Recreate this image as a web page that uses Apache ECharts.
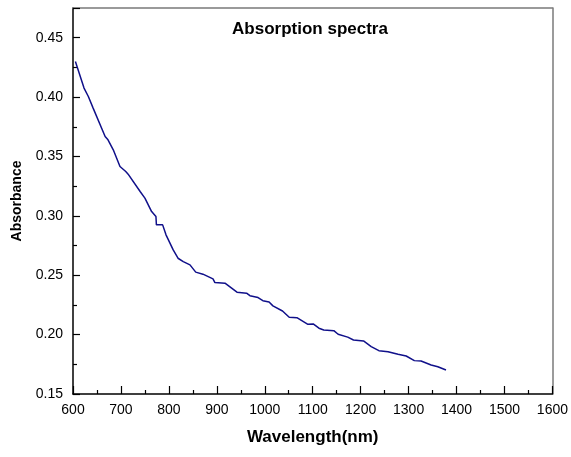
<!DOCTYPE html>
<html>
<head>
<meta charset="utf-8">
<script src="https://cdn.jsdelivr.net/npm/echarts@6/dist/echarts.min.js"></script>
<style>
  html, body { margin: 0; padding: 0; background: #fff; }
  #chart { width: 571px; height: 457px; }
</style>
</head>
<body>
<div id="chart"></div>
<script>
// Wavelength (nm) and absorbance samples of the spectrum
const wavelength = [
  605, 623, 632, 642, 667, 673, 684, 698, 710, 715,
  740, 750, 764, 773, 774, 787, 794, 809, 819, 830,
  844, 856, 871, 892, 896, 917, 942, 962, 969, 986,
  996, 1009, 1017, 1037, 1051, 1067, 1090, 1101, 1113, 1123,
  1144, 1153, 1173, 1185, 1206, 1222, 1238, 1257, 1278, 1295,
  1312, 1326, 1347, 1361, 1378
];
const absorbance = [
  0.430, 0.4076, 0.4005, 0.3907, 0.3668, 0.3640, 0.3556, 0.3415, 0.3373, 0.3351,
  0.3205, 0.3149, 0.3036, 0.2994, 0.2924, 0.2924, 0.2840, 0.2713, 0.2643, 0.2615,
  0.2587, 0.2526, 0.2509, 0.2469, 0.2438, 0.2433, 0.2357, 0.2349, 0.2328, 0.2312,
  0.2286, 0.2275, 0.2242, 0.2199, 0.2146, 0.2143, 0.2087, 0.2090, 0.2054, 0.2039,
  0.2033, 0.2003, 0.1979, 0.1955, 0.1947, 0.1899, 0.1865, 0.1856, 0.1835, 0.1820,
  0.1781, 0.1778, 0.1744, 0.1730, 0.1702
];

const chartTitle = 'Absorption spectra';
const xName = 'Wavelength(nm)';
const yName = 'Absorbance';

const FONT = '"Liberation Sans", Arial, sans-serif';
const frameColor = '#7a7a7a';

const chart = echarts.init(document.getElementById('chart'), null, { renderer: 'canvas' });

chart.setOption({
  animation: false,
  backgroundColor: '#ffffff',
  title: {
    text: chartTitle,
    left: 305,
    top: 16,
    textAlign: 'center',
    textStyle: { fontFamily: FONT, fontSize: 17, fontWeight: 'bold', color: '#000' }
  },
  grid: { left: 73, right: 18, top: 8, bottom: 63, show: false },
  xAxis: [
    {
      type: 'value',
      min: 600, max: 1600, interval: 100,
      name: xName,
      nameLocation: 'middle',
      nameGap: 35,
      nameTextStyle: { fontFamily: FONT, fontSize: 17, fontWeight: 'bold', color: '#000' },
      axisLine: { show: true, onZero: false, lineStyle: { color: '#000', width: 1.5 } },
      axisTick: { show: true, inside: true, length: 8, lineStyle: { color: '#000', width: 1.2 } },
      minorTick: { show: true, splitNumber: 2, length: 4, lineStyle: { color: '#000', width: 1.2 } },
      axisLabel: {
        margin: 9, fontFamily: FONT, fontSize: 14, color: '#000',
        formatter: v => String(v)
      },
      splitLine: { show: false }
    },
    {
      type: 'value', position: 'top',
      min: 600, max: 1600, interval: 100,
      axisLine: { show: true, onZero: false, lineStyle: { color: frameColor, width: 1.5 } },
      axisTick: { show: false }, axisLabel: { show: false }, splitLine: { show: false }
    }
  ],
  yAxis: [
    {
      type: 'value',
      min: 0.15, max: 0.475, interval: 0.05,
      name: yName,
      nameLocation: 'middle',
      nameGap: 49,
      nameRotate: 90,
      nameTextStyle: { fontFamily: FONT, fontSize: 14, fontWeight: 'bold', color: '#000' },
      axisLine: { show: true, onZero: false, lineStyle: { color: '#000', width: 1.5 } },
      axisTick: { show: true, inside: true, length: 7, lineStyle: { color: '#000', width: 1.2 } },
      minorTick: { show: true, splitNumber: 2, length: 4, lineStyle: { color: '#000', width: 1.2 } },
      axisLabel: {
        margin: 10, fontFamily: FONT, fontSize: 14, color: '#000',
        showMaxLabel: false,
        formatter: v => v.toFixed(2)
      },
      splitLine: { show: false }
    },
    {
      type: 'value', position: 'right',
      min: 0.15, max: 0.475,
      axisLine: { show: true, onZero: false, lineStyle: { color: frameColor, width: 1.5 } },
      axisTick: { show: false }, axisLabel: { show: false }, splitLine: { show: false }
    }
  ],
  series: [
    {
      type: 'line',
      xAxisIndex: 0,
      yAxisIndex: 0,
      data: wavelength.map((w, i) => [w, absorbance[i]]),
      showSymbol: false,
      smooth: false,
      lineStyle: { color: '#10108a', width: 1.5 }
    }
  ]
});
</script>
</body>
</html>
